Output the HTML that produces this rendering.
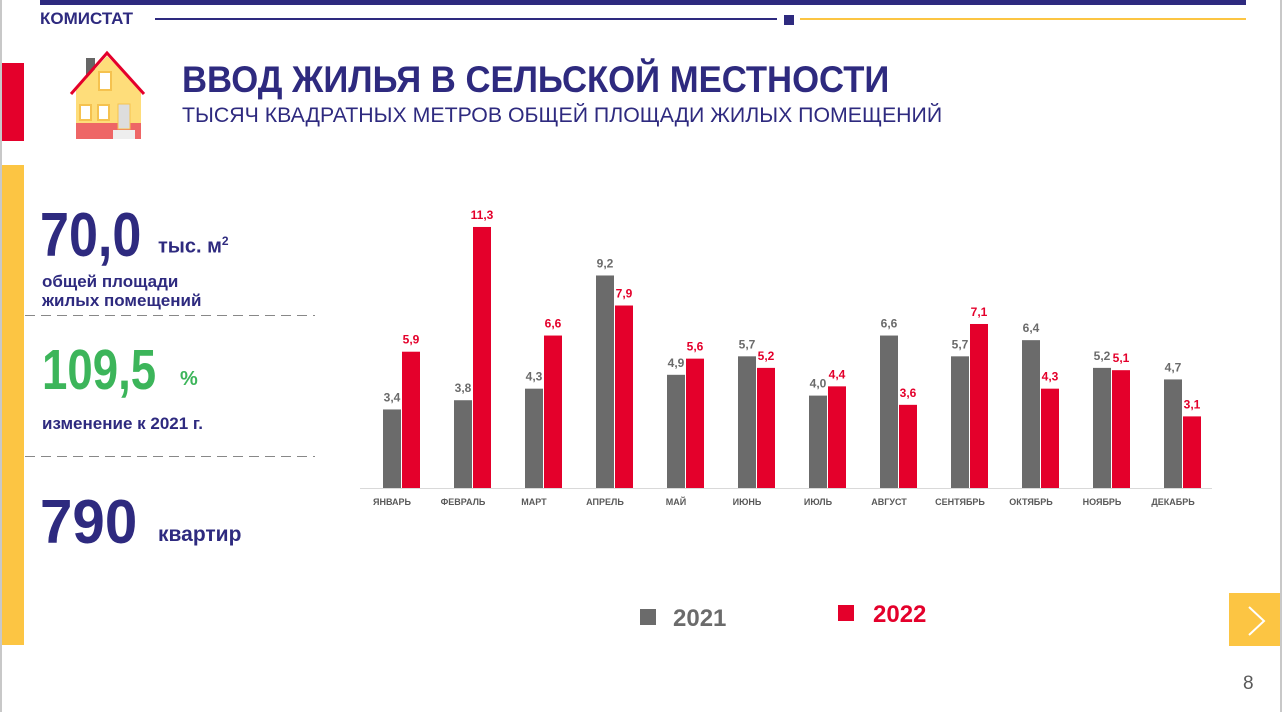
<!DOCTYPE html>
<html><head><meta charset="utf-8"><style>
body{margin:0;width:1282px;height:712px;position:relative;background:#fff;font-family:"Liberation Sans","Noto Sans CJK SC",sans-serif;overflow:hidden}
.a{position:absolute;white-space:nowrap}
.n{color:#2e2a7f;font-weight:bold}
</style></head><body>
<div class="a" style="left:0;top:0;width:2px;height:712px;background:#c8c8c8"></div>
<div class="a" style="left:1280px;top:0;width:2px;height:712px;background:#c8c8c8"></div>
<div class="a" style="left:40px;top:0;width:1206px;height:5px;background:#2e2a7f"></div>
<div class="a n" style="left:40px;top:9px;font-size:17px">КОМИСТАТ</div>
<div class="a" style="left:155px;top:18px;width:622px;height:2px;background:#2e2a7f"></div>
<div class="a" style="left:784px;top:15px;width:10px;height:10px;background:#2e2a7f"></div>
<div class="a" style="left:800px;top:18px;width:446px;height:2px;background:#fcc543"></div>
<div class="a" style="left:2px;top:63px;width:22px;height:78px;background:#e4002b"></div>
<div class="a" style="left:2px;top:165px;width:22px;height:480px;background:#fcc543"></div>
<svg class="a" style="left:68px;top:50px" width="80" height="92" viewBox="68 50 80 92">
<rect x="86" y="58" width="9" height="20" fill="#666"/>
<polygon points="76,126 76,90 107,56 141,90 141,126" fill="#fedd7a"/>
<polyline points="71,94 107,53 144,94" fill="none" stroke="#e4002b" stroke-width="3"/>
<rect x="76" y="123" width="65" height="16" fill="#ee6666"/>
<rect x="118" y="104" width="12" height="25" fill="#ddd" stroke="#f5c24f"/>
<rect x="113" y="130" width="22" height="9" fill="#eee"/>
<rect x="99" y="72" width="12" height="18" fill="#fff" stroke="#f5c24f" stroke-width="2"/>
<rect x="80" y="105" width="11" height="15" fill="#fff" stroke="#f5c24f" stroke-width="2"/>
<rect x="98" y="105" width="11" height="15" fill="#fff" stroke="#f5c24f" stroke-width="2"/>
</svg>
<div class="a n" style="left:182px;top:59px;font-size:37px;transform:scaleX(0.937);transform-origin:0 0">ВВОД ЖИЛЬЯ В СЕЛЬСКОЙ МЕСТНОСТИ</div>
<div class="a" style="left:182px;top:104px;font-size:21px;color:#2e2a7f;transform:scaleX(1.014);transform-origin:0 0">ТЫСЯЧ КВАДРАТНЫХ МЕТРОВ ОБЩЕЙ ПЛОЩАДИ ЖИЛЫХ ПОМЕЩЕНИЙ</div>

<div class="a n" style="left:40px;top:200px;font-size:62px;transform:scaleX(0.84);transform-origin:0 0">70,0</div>
<div class="a n" style="left:158px;top:234px;font-size:20px">тыс. м<sup style="font-size:12px">2</sup></div>
<div class="a n" style="left:42px;top:272px;font-size:17px;line-height:19px">общей площади<br>жилых помещений</div>
<div class="a" style="left:42px;top:337px;font-size:57px;font-weight:bold;color:#3cb55a;transform:scaleX(0.8);transform-origin:0 0">109,5</div>
<div class="a" style="left:180px;top:368px;font-size:20px;font-weight:bold;color:#3cb55a">%</div>
<div class="a n" style="left:42px;top:414px;font-size:17px">изменение к 2021 г.</div>
<div class="a n" style="left:40px;top:487px;font-size:62px;transform:scaleX(0.94);transform-origin:0 0">790</div>
<div class="a n" style="left:158px;top:523px;font-size:21px">квартир</div>

<svg class="a" style="left:0;top:0" width="1282" height="712" font-family="Liberation Sans, sans-serif" font-weight="bold">
<line x1="25" y1="315.5" x2="315" y2="315.5" stroke="#888" stroke-dasharray="10,6"/>
<line x1="25" y1="456.5" x2="315" y2="456.5" stroke="#888" stroke-dasharray="10,6"/>
<line x1="360" y1="488.5" x2="1212" y2="488.5" stroke="#d9d9d9" stroke-width="1"/>
<g id="c"></g>
</svg>
<script>
var a=[3.4,3.8,4.3,9.2,4.9,5.7,4.0,6.6,5.7,6.4,5.2,4.7],b=[5.9,11.3,6.6,7.9,5.6,5.2,4.4,3.6,7.1,4.3,5.1,3.1];
var m=["ЯНВАРЬ","ФЕВРАЛЬ","МАРТ","АПРЕЛЬ","МАЙ","ИЮНЬ","ИЮЛЬ","АВГУСТ","СЕНТЯБРЬ","ОКТЯБРЬ","НОЯБРЬ","ДЕКАБРЬ"];
var s="",k=23.1,f=v=>v.toFixed(1).replace(".",",");
for(var i=0;i<12;i++){var x=383+71*i,h1=a[i]*k,h2=b[i]*k;
s+=`<rect x="${x}" y="${488-h1}" width="18" height="${h1}" fill="#6b6b6b"/>`;
s+=`<rect x="${x+19}" y="${488-h2}" width="18" height="${h2}" fill="#e4002b"/>`;
s+=`<text x="${x+9}" y="${488-h1-8}" font-size="12" fill="#6b6b6b" text-anchor="middle">${f(a[i])}</text>`;
s+=`<text x="${x+28}" y="${488-h2-8}" font-size="12" fill="#e4002b" text-anchor="middle">${f(b[i])}</text>`;
s+=`<text x="${x+9}" y="505" font-size="9" fill="#595959" text-anchor="middle">${m[i]}</text>`;}
s+=`<rect x="640" y="609" width="16" height="16" fill="#6b6b6b"/><text x="673" y="626" font-size="24" fill="#6b6b6b">2021</text>`;
s+=`<rect x="838" y="605" width="16" height="16" fill="#e4002b"/><text x="873" y="622" font-size="24" fill="#e4002b">2022</text>`;
document.getElementById("c").innerHTML=s;
</script>
<div class="a" style="left:1229px;top:593px;width:51px;height:53px;background:#fcc543"></div>
<svg class="a" style="left:1229px;top:593px" width="51" height="53"><polyline points="20,14 35,28 20,42" fill="none" stroke="#fff" stroke-width="2"/></svg>
<div class="a" style="left:1243px;top:673px;font-size:19px;color:#595959">8</div>
</body></html>
